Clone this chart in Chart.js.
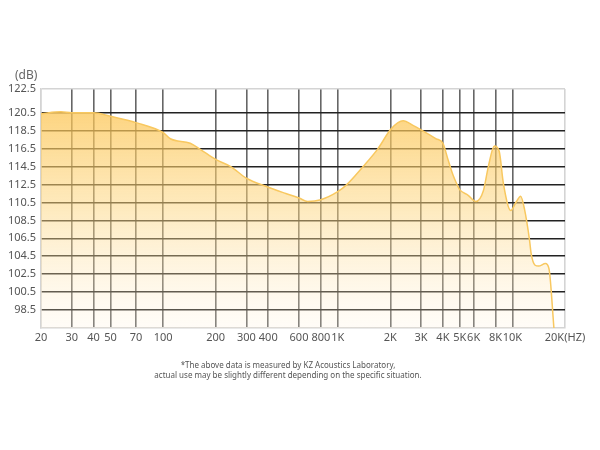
<!DOCTYPE html>
<html>
<head>
<meta charset="utf-8">
<script src="https://cdn.jsdelivr.net/npm/chart.js@4/dist/chart.umd.min.js"></script>
<style>
  body { margin: 0; background: #fff; }
  #wrap { position: relative; width: 600px; height: 450px; }
  .note { position: absolute; font-family: 'Noto Sans', sans-serif; color: #555; }
</style>
</head>
<body>
<div id="wrap">
  <canvas id="frChart" width="600" height="450"></canvas>
  <div class="note" style="left:15px; top:66px; font-size:12px; color:#666;">(dB)</div>
  <div class="note" style="left:0; width:576px; top:360px; font-size:8px; line-height:10px; text-align:center;">
    *The above data is measured by KZ Acoustics Laboratory,<br>actual use may be slightly different depending on the specific situation.
  </div>
</div>
<script>
// frequency response
const freqs = [20, 26, 30, 40, 50, 70, 100, 110, 143, 164, 200, 244, 300, 400, 504, 600, 672, 800,
  1000, 1114, 1397, 1700, 2000, 2212, 2370, 2694, 3000, 3660, 4000, 4290, 4580, 4900, 5000, 5580,
  6180, 6820, 7280, 7880, 8400, 8880, 9780, 10540, 11140, 11740, 12530, 12800, 13480, 14120, 15460,
  16200, 17280];
const spl = [120.4, 120.6, 120.5, 120.5, 120.1, 119.4, 118.3, 117.6, 117.1, 116.4, 115.3, 114.5, 113.2,
  112.2, 111.5, 111.0, 110.6, 110.8, 111.7, 112.4, 114.5, 116.5, 118.6, 119.4, 119.6, 119.1, 118.6,
  117.6, 117.1, 115.2, 113.5, 112.2, 111.9, 111.3, 110.6, 111.8, 114.5, 116.8, 116.2, 112.6, 109.6,
  110.6, 111.2, 109.7, 106.3, 104.8, 103.5, 103.4, 103.7, 103.1, 96.5];

const xTicks = [20, 30, 40, 50, 70, 100, 200, 300, 400, 600, 800, 1000, 2000, 3000, 4000, 5000, 6000, 8000, 10000, 20000];
const yTicks = [98.5, 100.5, 102.5, 104.5, 106.5, 108.5, 110.5, 112.5, 114.5, 116.5, 118.5, 120.5];
const yMin = 96.5, yMax = 123.15;

function freqLabel(v) {
  if (v === 20000) return '20K(HZ)';
  return v >= 1000 ? (v / 1000) + 'K' : String(v);
}

new Chart(document.getElementById('frChart'), {
  type: 'line',
  data: {
    datasets: [{
      data: freqs.map((f, i) => ({ x: f, y: spl[i] })),
      borderColor: '#F8C860',
      borderWidth: 1.5,
      pointRadius: 0,
      cubicInterpolationMode: 'monotone',
      fill: 'start',
      backgroundColor: (ctx) => {
        const area = ctx.chart.chartArea;
        if (!area) return 'rgba(252,200,90,0.5)';
        const g = ctx.chart.ctx.createLinearGradient(0, area.top, 0, area.bottom);
        g.addColorStop(0, 'rgba(252,194,75,0.8)');
        g.addColorStop(0.5, 'rgba(253,213,125,0.5)');
        g.addColorStop(1, 'rgba(255,240,215,0.2)');
        return g;
      }
    }]
  },
  options: {
    responsive: false,
    animation: false,
    layout: { padding: { left: 0, top: 89, right: 35, bottom: 92 } },
    plugins: { legend: { display: false }, tooltip: { enabled: false } },
    scales: {
      x: {
        type: 'logarithmic',
        min: 20, max: 20000,
        afterBuildTicks: (s) => { s.ticks = xTicks.map(v => ({ value: v })); },
        afterFit: (s) => { s.height = 30; },
        ticks: {
          autoSkip: false, maxRotation: 0, padding: 3,
          color: '#555', font: { family: 'Noto Sans', size: 11 },
          callback: (v) => freqLabel(v)
        },
        grid: {
          drawTicks: false,
          lineWidth: 1.6,
          color: (c) => (c.tick && (c.tick.value === 20 || c.tick.value === 20000)) ? '#d4d4d4' : '#666'
        },
        border: { color: '#d4d4d4', width: 1.5 }
      },
      y: {
        min: yMin, max: yMax,
        afterBuildTicks: (s) => { s.ticks = yTicks.concat([yMax]).map(v => ({ value: v })); },
        afterFit: (s) => { s.width = 41; },
        ticks: {
          padding: 5, color: '#555', font: { family: 'Noto Sans', size: 11 },
          callback: (v) => v > 122 ? '122.5' : Number(v).toFixed(1)
        },
        grid: {
          drawTicks: false,
          lineWidth: 1.6,
          color: (c) => (c.tick && c.tick.value === yMax) ? '#d4d4d4' : '#222'
        },
        border: { color: '#d4d4d4', width: 1.5 }
      }
    }
  }
});
</script>
</body>
</html>
